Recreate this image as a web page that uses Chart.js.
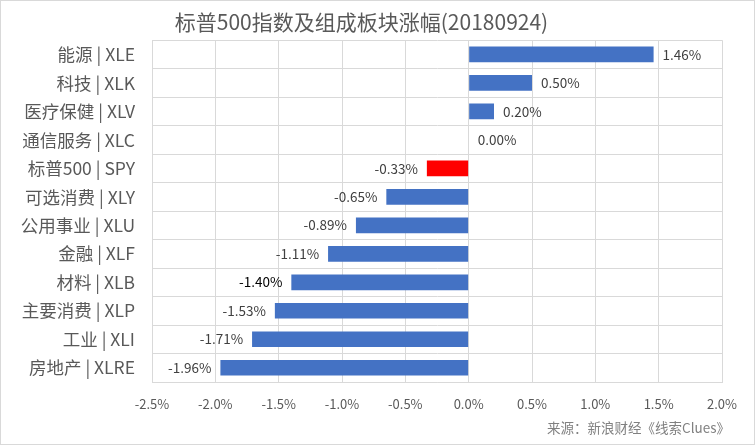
<!DOCTYPE html>
<html>
<head>
<meta charset="utf-8">
<script src="https://cdn.jsdelivr.net/npm/chart.js@4"></script>
<style>
  body { margin: 0; background: #fff; }
  #wrap { width: 755px; height: 445px; box-sizing: border-box; border: 1px solid #d9d9d9; }
</style>
</head>
<body>
<div id="wrap"><canvas id="sectorChart" width="753" height="443"></canvas></div>
<script>
const categories = ['能源 | XLE', '科技 | XLK', '医疗保健 | XLV', '通信服务 | XLC', '标普500 | SPY', '可选消费 | XLY',
    '公用事业 | XLU', '金融 | XLF', '材料 | XLB', '主要消费 | XLP', '工业 | XLI', '房地产 | XLRE'];
const changes = [1.46, 0.50, 0.20, 0.00, -0.33, -0.65, -0.89, -1.11, -1.40, -1.53, -1.71, -1.96];
const xTicks = [-2.5, -2.0, -1.5, -1.0, -0.5, 0.0, 0.5, 1.0, 1.5, 2.0];
const sourceText = '来源：新浪财经《线索Clues》';

const FONT = '"Noto Sans CJK SC", "Noto Sans", sans-serif';
const barColors = categories.map(c => c.indexOf('SPY') >= 0 ? '#FF0000' : '#4472C4');

// value labels next to each bar end, plus the source note
const barLabels = {
    id: 'barLabels',
    afterDatasetsDraw(chart) {
        const ctx = chart.ctx;
        const meta = chart.getDatasetMeta(0);
        ctx.save();
        ctx.font = '13.5px ' + FONT;
        ctx.textBaseline = 'middle';
        meta.data.forEach((bar, i) => {
            const v = changes[i];
            const txt = v.toFixed(2) + '%';
            ctx.fillStyle = v === -1.40 ? '#000000' : '#404040';
            if (v >= 0) {
                ctx.textAlign = 'left';
                ctx.fillText(txt, bar.x + 9, bar.y);
            } else {
                ctx.textAlign = 'right';
                ctx.fillText(txt, bar.x - 9, bar.y);
            }
        });
        ctx.font = '13.5px ' + FONT;
        ctx.fillStyle = '#808080';
        ctx.textAlign = 'right';
        ctx.fillText(sourceText, 729, 427);
        ctx.restore();
    }
};

new Chart(document.getElementById('sectorChart'), {
    type: 'bar',
    data: {
        labels: categories,
        datasets: [{
            data: changes,
            backgroundColor: barColors,
            categoryPercentage: 1.0,
            barPercentage: 0.55
        }]
    },
    options: {
        indexAxis: 'y',
        responsive: false,
        animation: false,
        layout: { padding: { left: 0, right: 32, top: 0, bottom: 32 } },
        scales: {
            x: {
                min: -2.5,
                max: 2.0,
                afterBuildTicks: s => { s.ticks = xTicks.map(v => ({ value: v })); },
                afterFit: s => { s.height = 30; },
                grid: { color: '#d9d9d9', drawTicks: false },
                border: { color: '#d9d9d9' },
                ticks: {
                    padding: 14,
                    color: '#595959',
                    font: { size: 13, family: FONT },
                    callback: v => v.toFixed(1) + '%'
                }
            },
            y: {
                afterFit: s => { s.width = 151; },
                grid: { color: '#d9d9d9', drawTicks: false },
                border: { color: '#d9d9d9' },
                ticks: {
                    padding: 17,
                    color: '#595959',
                    font: { size: 17.5, family: FONT }
                }
            }
        },
        plugins: {
            legend: { display: false },
            tooltip: { enabled: false },
            title: {
                display: true,
                text: '标普500指数及组成板块涨幅(20180924)',
                color: '#595959',
                font: { size: 21, weight: 'normal', family: FONT },
                padding: { top: 8, bottom: 6 }
            }
        }
    },
    plugins: [barLabels]
});
</script>
</body>
</html>
